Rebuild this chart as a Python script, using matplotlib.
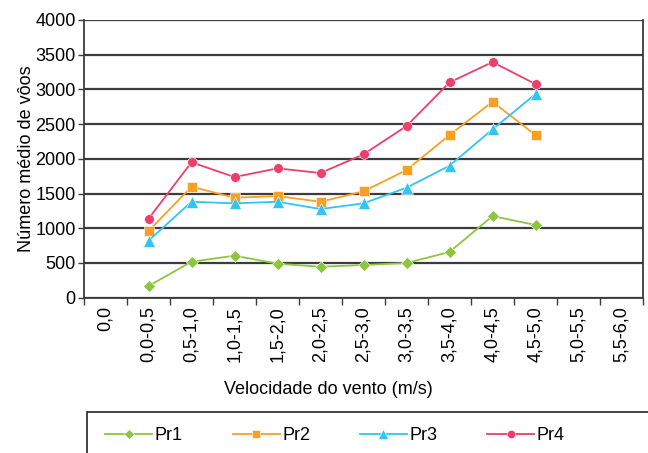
import matplotlib.pyplot as plt
from matplotlib.patches import Rectangle

plt.rcParams['font.family'] = ['Liberation Sans', 'DejaVu Sans']

categories = ['0,0', '0,0-0,5', '0,5-1,0', '1,0-1,5', '1,5-2,0', '2,0-2,5', '2,5-3,0',
              '3,0-3,5', '3,5-4,0', '4,0-4,5', '4,5-5,0', '5,0-5,5', '5,5-6,0']
# values for categories 0,0-0,5 .. 4,5-5,0
pr1 = [168, 518, 605, 490, 446, 471, 500, 658, 1176, 1047]
pr2 = [960, 1598, 1440, 1464, 1382, 1532, 1839, 2343, 2822, 2343]
pr3 = [821, 1382, 1359, 1382, 1277, 1359, 1584, 1901, 2425, 2933]
pr4 = [1138, 1950, 1738, 1863, 1796, 2065, 2472, 3101, 3394, 3077]

W, H = 648, 453
fs = 13
fig = plt.figure(figsize=(W / 100, H / 100), dpi=100)
ax = fig.add_axes([84 / W, 1 - 297.7 / H, 559 / W, 277.7 / H])

xs = list(range(1, 1 + len(pr1)))
series = [
    ('Pr1', pr1, '#8cc63e', 'D', 6.5),
    ('Pr2', pr2, '#f7a024', 's', 7),
    ('Pr3', pr3, '#33c4f2', '^', 8),
    ('Pr4', pr4, '#ec3f6d', 'o', 7),
]
for name, vals, col, mk, ms in series:
    ax.plot(xs, vals, color=col, marker=mk, markersize=ms, linewidth=1.3,
            markeredgecolor='white', markeredgewidth=0.4, label=name, zorder=3)

ax.set_xlim(-0.5, len(categories) - 0.5)
ax.set_ylim(0, 4000)
ax.set_yticks(range(0, 4001, 500))
ax.grid(axis='y', color='#3c3c3c', linewidth=1.6)
ax.set_axisbelow(True)

ax.set_xticks(range(len(categories)))
ax.set_xticklabels(categories, rotation=90, fontsize=fs)
ax.set_xticks([i - 0.5 for i in range(len(categories) + 1)], minor=True)
ax.tick_params(axis='x', which='major', length=0, pad=6)
ax.tick_params(axis='x', which='minor', length=5, width=1, color='#3c3c3c')
ax.tick_params(axis='y', length=4, width=1, color='#3c3c3c', labelsize=fs, pad=2)

for side in ['left', 'bottom', 'right']:
    ax.spines[side].set_color('#3c3c3c')
    ax.spines[side].set_linewidth(1.3)
ax.spines['top'].set_visible(False)

ax.set_ylabel('Número médio de vôos', fontsize=fs, labelpad=0)
fig.text(328 / W, 1 - 389 / H, 'Velocidade do vento (m/s)', fontsize=fs,
         ha='center', va='center')

# clipped legend box at bottom
fig.patches.append(Rectangle((87 / W, -0.1), 1.0, 0.1 + 1 - 412 / H,
                             transform=fig.transFigure, fill=False,
                             edgecolor='#222222', linewidth=1.2))
handles, labels = ax.get_legend_handles_labels()
leg = fig.legend(handles, labels, ncol=4, loc='center left',
                 bbox_to_anchor=(89 / W, 1 - 436 / H), frameon=False,
                 fontsize=fs, handlelength=2.6, handletextpad=0.15,
                 columnspacing=2.75, markerscale=0.85)

fig.savefig('out.png', dpi=100)
